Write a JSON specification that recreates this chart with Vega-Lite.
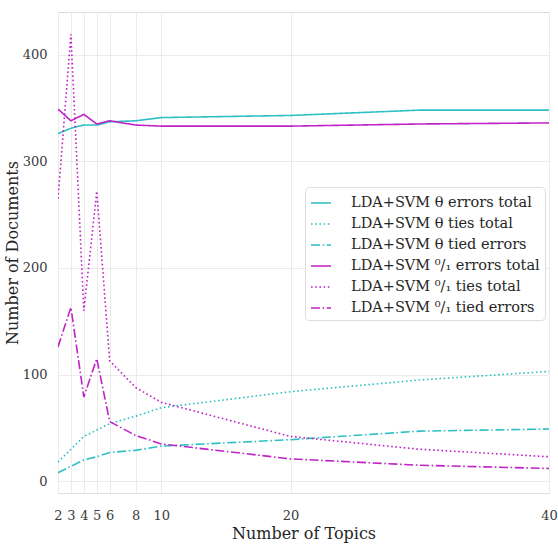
{
  "$schema": "https://vega.github.io/schema/vega-lite/v6.json",
  "autosize": {"type": "none"},
  "padding": {"left": 58, "top": 12, "right": 9, "bottom": 54},
  "width": 491,
  "height": 481,
  "background": "white",
  "config": {
    "font": "DejaVu Serif",
    "view": {"stroke": "#dddddd", "strokeWidth": 1},
    "axis": {
      "grid": true,
      "gridColor": "#ebebeb",
      "gridWidth": 1,
      "domain": false,
      "ticks": false,
      "labelFont": "DejaVu Serif",
      "labelFontSize": 13,
      "labelColor": "#3a3a3a",
      "titleFont": "DejaVu Serif",
      "titleFontSize": 16,
      "titleFontWeight": "normal",
      "titleColor": "#262626"
    },
    "legend": {
      "labelFont": "DejaVu Serif",
      "labelFontSize": 14.5,
      "labelColor": "#262626",
      "labelLimit": 400
    }
  },
  "data": {
    "values": [
      {"topics": 2, "series": "LDA+SVM θ errors total", "value": 326},
      {"topics": 3, "series": "LDA+SVM θ errors total", "value": 331},
      {"topics": 4, "series": "LDA+SVM θ errors total", "value": 334},
      {"topics": 5, "series": "LDA+SVM θ errors total", "value": 334},
      {"topics": 6, "series": "LDA+SVM θ errors total", "value": 337},
      {"topics": 8, "series": "LDA+SVM θ errors total", "value": 338},
      {"topics": 10, "series": "LDA+SVM θ errors total", "value": 341},
      {"topics": 20, "series": "LDA+SVM θ errors total", "value": 343},
      {"topics": 30, "series": "LDA+SVM θ errors total", "value": 348},
      {"topics": 40, "series": "LDA+SVM θ errors total", "value": 348},

      {"topics": 2, "series": "LDA+SVM θ ties total", "value": 18},
      {"topics": 3, "series": "LDA+SVM θ ties total", "value": 30},
      {"topics": 4, "series": "LDA+SVM θ ties total", "value": 42},
      {"topics": 5, "series": "LDA+SVM θ ties total", "value": 48},
      {"topics": 6, "series": "LDA+SVM θ ties total", "value": 54},
      {"topics": 8, "series": "LDA+SVM θ ties total", "value": 61},
      {"topics": 10, "series": "LDA+SVM θ ties total", "value": 69},
      {"topics": 20, "series": "LDA+SVM θ ties total", "value": 84},
      {"topics": 30, "series": "LDA+SVM θ ties total", "value": 95},
      {"topics": 40, "series": "LDA+SVM θ ties total", "value": 103},

      {"topics": 2, "series": "LDA+SVM θ tied errors", "value": 8},
      {"topics": 3, "series": "LDA+SVM θ tied errors", "value": 14},
      {"topics": 4, "series": "LDA+SVM θ tied errors", "value": 20},
      {"topics": 5, "series": "LDA+SVM θ tied errors", "value": 23},
      {"topics": 6, "series": "LDA+SVM θ tied errors", "value": 27},
      {"topics": 8, "series": "LDA+SVM θ tied errors", "value": 29},
      {"topics": 10, "series": "LDA+SVM θ tied errors", "value": 33},
      {"topics": 20, "series": "LDA+SVM θ tied errors", "value": 39},
      {"topics": 30, "series": "LDA+SVM θ tied errors", "value": 47},
      {"topics": 40, "series": "LDA+SVM θ tied errors", "value": 49},

      {"topics": 2, "series": "LDA+SVM ⁰/₁ errors total", "value": 349},
      {"topics": 3, "series": "LDA+SVM ⁰/₁ errors total", "value": 338},
      {"topics": 4, "series": "LDA+SVM ⁰/₁ errors total", "value": 344},
      {"topics": 5, "series": "LDA+SVM ⁰/₁ errors total", "value": 335},
      {"topics": 6, "series": "LDA+SVM ⁰/₁ errors total", "value": 338},
      {"topics": 8, "series": "LDA+SVM ⁰/₁ errors total", "value": 334},
      {"topics": 10, "series": "LDA+SVM ⁰/₁ errors total", "value": 333},
      {"topics": 20, "series": "LDA+SVM ⁰/₁ errors total", "value": 333},
      {"topics": 30, "series": "LDA+SVM ⁰/₁ errors total", "value": 335},
      {"topics": 40, "series": "LDA+SVM ⁰/₁ errors total", "value": 336},

      {"topics": 2, "series": "LDA+SVM ⁰/₁ ties total", "value": 265},
      {"topics": 3, "series": "LDA+SVM ⁰/₁ ties total", "value": 419},
      {"topics": 4, "series": "LDA+SVM ⁰/₁ ties total", "value": 160},
      {"topics": 5, "series": "LDA+SVM ⁰/₁ ties total", "value": 272},
      {"topics": 6, "series": "LDA+SVM ⁰/₁ ties total", "value": 113},
      {"topics": 8, "series": "LDA+SVM ⁰/₁ ties total", "value": 88},
      {"topics": 10, "series": "LDA+SVM ⁰/₁ ties total", "value": 74},
      {"topics": 20, "series": "LDA+SVM ⁰/₁ ties total", "value": 42},
      {"topics": 30, "series": "LDA+SVM ⁰/₁ ties total", "value": 30},
      {"topics": 40, "series": "LDA+SVM ⁰/₁ ties total", "value": 23},

      {"topics": 2, "series": "LDA+SVM ⁰/₁ tied errors", "value": 126},
      {"topics": 3, "series": "LDA+SVM ⁰/₁ tied errors", "value": 163},
      {"topics": 4, "series": "LDA+SVM ⁰/₁ tied errors", "value": 79},
      {"topics": 5, "series": "LDA+SVM ⁰/₁ tied errors", "value": 115},
      {"topics": 6, "series": "LDA+SVM ⁰/₁ tied errors", "value": 56},
      {"topics": 8, "series": "LDA+SVM ⁰/₁ tied errors", "value": 43},
      {"topics": 10, "series": "LDA+SVM ⁰/₁ tied errors", "value": 35},
      {"topics": 20, "series": "LDA+SVM ⁰/₁ tied errors", "value": 21},
      {"topics": 30, "series": "LDA+SVM ⁰/₁ tied errors", "value": 15},
      {"topics": 40, "series": "LDA+SVM ⁰/₁ tied errors", "value": 12}
    ]
  },
  "mark": {"type": "line", "strokeWidth": 1.6, "clip": true},
  "encoding": {
    "x": {
      "field": "topics",
      "type": "quantitative",
      "scale": {"domain": [2, 40], "nice": false, "zero": false},
      "axis": {
        "title": "Number of Topics",
        "values": [2, 3, 4, 5, 6, 8, 10, 20, 40],
        "labelPadding": 16,
        "titlePadding": 3,
        "labelFlush": false
      }
    },
    "y": {
      "field": "value",
      "type": "quantitative",
      "scale": {"domain": [-11, 440], "nice": false, "zero": false},
      "axis": {
        "title": "Number of Documents",
        "values": [0, 100, 200, 300, 400],
        "labelPadding": 11,
        "titlePadding": 2
      }
    },
    "color": {
      "field": "series",
      "type": "nominal",
      "scale": {
        "domain": [
          "LDA+SVM θ errors total",
          "LDA+SVM θ ties total",
          "LDA+SVM θ tied errors",
          "LDA+SVM ⁰/₁ errors total",
          "LDA+SVM ⁰/₁ ties total",
          "LDA+SVM ⁰/₁ tied errors"
        ],
        "range": ["#2ec0c4", "#2ec0c4", "#2ec0c4", "#bf22c6", "#bf22c6", "#bf22c6"]
      },
      "legend": {
        "title": null,
        "orient": "none",
        "legendX": 247,
        "legendY": 175,
        "symbolType": "stroke",
        "symbolSize": 400,
        "symbolStrokeWidth": 1.6,
        "rowPadding": 3,
        "labelOffset": 19,
        "padding": 5,
        "fillColor": "white",
        "strokeColor": "#dddddd",
        "cornerRadius": 4
      }
    },
    "strokeDash": {
      "field": "series",
      "type": "nominal",
      "scale": {
        "domain": [
          "LDA+SVM θ errors total",
          "LDA+SVM θ ties total",
          "LDA+SVM θ tied errors",
          "LDA+SVM ⁰/₁ errors total",
          "LDA+SVM ⁰/₁ ties total",
          "LDA+SVM ⁰/₁ tied errors"
        ],
        "range": [[1, 0], [1.6, 2.6], [9, 2.6, 1.6, 2.6], [1, 0], [1.6, 2.6], [9, 2.6, 1.6, 2.6]]
      }
    }
  }
}
